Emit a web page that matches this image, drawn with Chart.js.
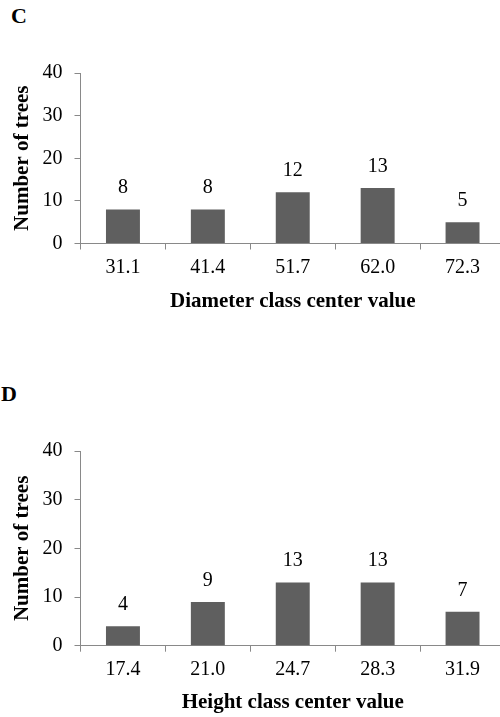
<!DOCTYPE html>
<html>
<head>
<meta charset="utf-8">
<script src="https://cdn.jsdelivr.net/npm/chart.js@4/dist/chart.umd.min.js"></script>
<style>
  html, body { margin: 0; padding: 0; background: #fff; }
  body { width: 500px; height: 717px; position: relative; overflow: hidden; }
  .panel-tag {
    position: absolute;
    font: bold 22px 'Liberation Serif', 'Times New Roman', serif;
    color: #000;
    line-height: 1;
  }
  .chart-box { position: absolute; left: 0; width: 510px; }
  .chart-box canvas { display: block; }
</style>
</head>
<body>
  <div class="panel-tag" style="left:11px; top:5px;">C</div>
  <div class="chart-box" style="top:0; height:320px;"><canvas id="chartC"></canvas></div>

  <div class="panel-tag" style="left:1px; top:383px;">D</div>
  <div class="chart-box" style="top:378px; height:339px;"><canvas id="chartD"></canvas></div>

<script>
// diameter classes (panel C)
const diameterClasses = ['31.1', '41.4', '51.7', '62.0', '72.3'];
const diameterCounts = [8, 8, 12, 13, 5];

// height classes (panel D)
const heightClasses = ['17.4', '21.0', '24.7', '28.3', '31.9'];
const heightCounts = [4, 9, 13, 13, 7];

// shared count axis
const countMax = 40;
const countStep = 10;

const SERIF = "'Liberation Serif', 'Times New Roman', serif";
const AXIS_GREY = '#898989';
const BAR_GREY = '#5f5f5f';

// value printed above every bar
const barValuesPlugin = {
  id: 'barValues',
  afterDatasetsDraw(chart) {
    const { ctx } = chart;
    const meta = chart.getDatasetMeta(0);
    const values = chart.data.datasets[0].data;
    ctx.save();
    ctx.font = `20px ${SERIF}`;
    ctx.fillStyle = '#000';
    ctx.textAlign = 'center';
    ctx.textBaseline = 'alphabetic';
    meta.data.forEach((bar, i) => {
      ctx.fillText(String(values[i]), bar.x, bar.y - 16);
    });
    ctx.restore();
  }
};

function buildHistogram(canvasId, labels, counts, xTitle, opts) {
  const ctx = document.getElementById(canvasId).getContext('2d');
  return new Chart(ctx, {
    type: 'bar',
    data: {
      labels: labels,
      datasets: [{
        data: counts,
        backgroundColor: BAR_GREY,
        borderWidth: 0,
        categoryPercentage: 1,
        barPercentage: 0.4,
      }]
    },
    options: {
      responsive: true,
      maintainAspectRatio: false,
      animation: false,
      layout: { padding: { top: 73, right: 5, bottom: opts.padBottom, left: 0 } },
      plugins: {
        legend: { display: false },
        tooltip: { enabled: false },
      },
      scales: {
        x: {
          grid: {
            offset: true,
            drawOnChartArea: false,
            drawTicks: true,
            tickLength: 6,
            color: AXIS_GREY,
          },
          border: { display: true, color: AXIS_GREY, width: 1 },
          ticks: {
            color: '#000',
            padding: 6,
            maxRotation: 0,
            font: { family: SERIF, size: 20 },
          },
          title: {
            display: true,
            text: xTitle,
            color: '#000',
            padding: 0,
            font: { family: SERIF, size: 21, weight: 'bold' },
          },
          afterFit(scale) { scale.height = opts.xHeight; },
        },
        y: {
          min: 0,
          max: countMax,
          grid: {
            drawOnChartArea: false,
            drawTicks: true,
            tickLength: 6,
            color: AXIS_GREY,
          },
          border: { display: true, color: AXIS_GREY, width: 1 },
          ticks: {
            stepSize: countStep,
            color: '#000',
            padding: 12,
            font: { family: SERIF, size: 20 },
          },
          title: {
            display: true,
            text: 'Number of trees',
            color: '#000',
            padding: { top: 10, bottom: 0 },
            font: { family: SERIF, size: 21, weight: 'bold' },
          },
          afterFit(scale) { scale.width = 80.5; },
        }
      }
    },
    plugins: [barValuesPlugin]
  });
}

buildHistogram('chartC', diameterClasses, diameterCounts, 'Diameter class center value',
  { xHeight: 70.8, padBottom: 5.7 });
buildHistogram('chartD', heightClasses, heightCounts, 'Height class center value',
  { xHeight: 69.9, padBottom: 1.4 });
</script>
</body>
</html>
